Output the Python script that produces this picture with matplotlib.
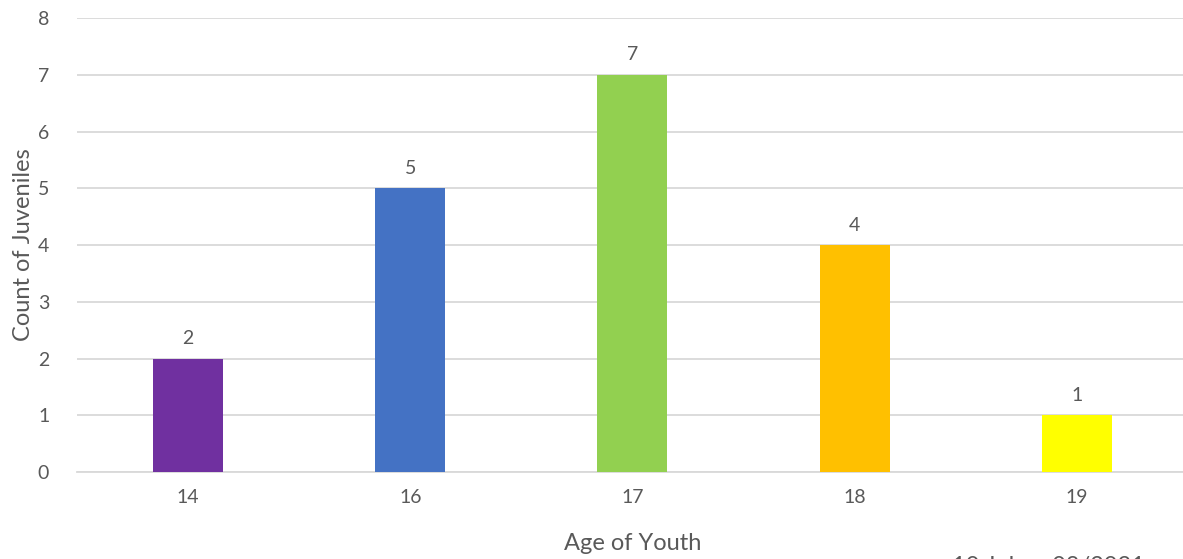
import matplotlib.pyplot as plt

# data
ages = ["14", "16", "17", "18", "19"]
counts = [2, 5, 7, 4, 1]
bar_colors = ["#7030A0", "#4472C4", "#92D050", "#FFC000", "#FFFF00"]
y_ticks = list(range(0, 9))

text_color = "#595959"
grid_color = "#D9D9D9"

plt.rcParams["font.family"] = ["Lato", "DejaVu Sans"]

fig = plt.figure(figsize=(11.83, 5.59), dpi=100)
ax = fig.add_axes([0.0651, 0.1556, 0.939, 0.8122])

x = list(range(len(ages)))
ax.bar(x, counts, width=0.315, color=bar_colors, zorder=3)

# value labels above bars
for xi, c in zip(x, counts):
    ax.text(xi, c + 0.2, str(c), ha="center", va="bottom", fontsize=14, color=text_color)

ax.set_xlim(-0.5, len(ages) - 0.5)
ax.set_ylim(0, 8)
ax.set_yticks(y_ticks)
ax.set_xticks(x)
ax.set_xticklabels(ages)
ax.tick_params(axis="both", length=0, labelsize=14, colors=text_color)
ax.tick_params(axis="x", pad=12)
ax.tick_params(axis="y", pad=20)

ax.yaxis.grid(True, color=grid_color, linewidth=1.3, zorder=0)
for side in ["top", "right", "left"]:
    ax.spines[side].set_visible(False)
ax.spines["bottom"].set_color(grid_color)
ax.spines["bottom"].set_linewidth(1.3)

ax.set_xlabel("Age of Youth", fontsize=17, color=text_color, labelpad=20)
ax.set_ylabel("Count of Juveniles", fontsize=17, color=text_color, labelpad=3)

# footnote partly cut off by the bottom edge, as in the original
fig.text(0.805, 0.006, "10 July \u2013 08/2021", fontsize=17, color=text_color,
         ha="left", va="top")

fig.savefig("out.png", dpi=100)
